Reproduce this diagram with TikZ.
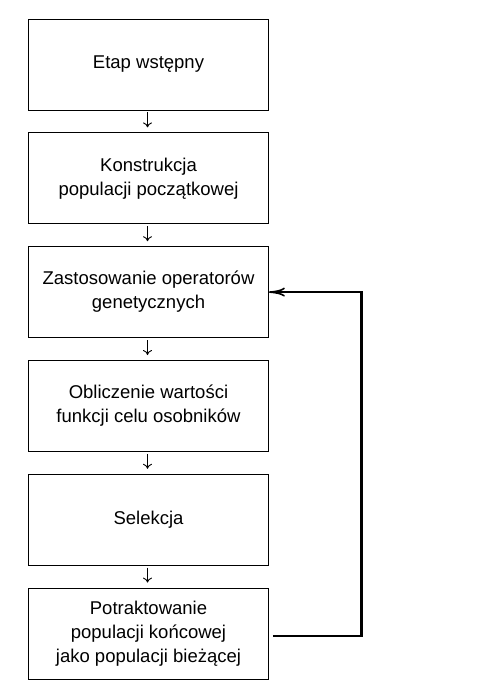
\documentclass[tikz,border=0pt]{standalone}
\usepackage{fontspec}
\setmainfont{Liberation Sans}
\usepackage{tikz}
\usetikzlibrary{calc, positioning, arrows.meta}

\begin{document}
\begin{tikzpicture}[x=1pt, y=1pt, node distance=22pt,
    etap/.style={draw, line width=0.8pt, minimum width=240pt, minimum height=91pt,
        align=center, font=\fontsize{18.5}{24}\selectfont},
    krok/.style={-{To[length=5pt, width=9pt]}, line width=0.9pt}]
    % Obszar rysunku
    \useasboundingbox (0,0) rectangle (500,-700);

    % Kolejne etapy algorytmu
    \node[etap] (wstepny) at (148.5,-64.5) {Etap wstępny};
    \node[etap, below=of wstepny] (konstrukcja) {Konstrukcja\\populacji początkowej};
    \node[etap, below=of konstrukcja] (operatory) {Zastosowanie operatorów\\genetycznych};
    \node[etap, below=of operatory] (obliczenie) {Obliczenie wartości\\funkcji celu osobników};
    \node[etap, below=of obliczenie] (selekcja) {Selekcja};
    \node[etap, below=of selekcja] (potraktowanie) {Potraktowanie\\populacji końcowej\\jako populacji bieżącej};

    % Strzałki między etapami
    \foreach \a/\b in {wstepny/konstrukcja, konstrukcja/operatory, operatory/obliczenie,
                       obliczenie/selekcja, selekcja/potraktowanie}
        \draw[krok] ([xshift=-1pt, yshift=-2pt]\a.south) -- ([xshift=-1pt, yshift=5pt]\b.north);

    % Pętla powrotna
    \coordinate (powrot) at ($(operatory.east)+(92.5,0)$);
    \draw[line width=2.6pt] ([xshift=4pt, yshift=-2.5pt]potraktowanie.east) -| ([yshift=1pt]powrot);
    \draw[-{To[length=16pt, width=9pt]}, line width=1.6pt] (powrot) -- (operatory.east);
\end{tikzpicture}
\end{document}
